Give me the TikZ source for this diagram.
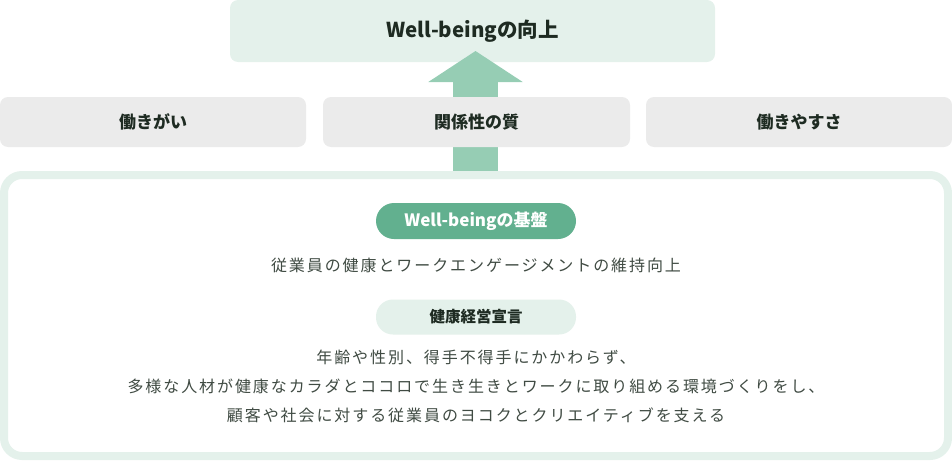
\documentclass[tikz,border=0pt]{standalone}
\usepackage{fontspec}
\setmainfont{Noto Sans CJK JP}
\newfontfamily\bodyfont[LetterSpace=12]{Noto Sans CJK JP}
\usetikzlibrary{arrows.meta}

\definecolor{paleGreen}{HTML}{E4F1EB}
\definecolor{midGreen}{HTML}{96CDB4}
\definecolor{deepGreen}{HTML}{62B08F}
\definecolor{paleGray}{HTML}{EBEBEB}
\definecolor{inkDark}{HTML}{1E2B22}

\tikzset{
    goalbox/.style={fill=paleGreen, rounded corners=8pt, minimum width=485pt, minimum height=62pt,
        inner sep=0pt, outer sep=0pt, text=inkDark, font=\bfseries\fontsize{20.5}{22}\selectfont},
    factorbox/.style={fill=paleGray, rounded corners=8pt, minimum width=306pt, minimum height=50pt,
        inner sep=0pt, outer sep=0pt, text=inkDark, font=\bfseries\fontsize{17}{19}\selectfont},
    basepill/.style={fill=deepGreen, rounded corners=18pt, minimum width=200pt, minimum height=36pt,
        inner sep=0pt, text=white, font=\bfseries\fontsize{17}{19}\selectfont},
    declpill/.style={fill=paleGreen, rounded corners=17pt, minimum width=200pt, minimum height=35pt,
        inner sep=0pt, text=inkDark, font=\bfseries\fontsize{15.5}{17}\selectfont},
    bodytext/.style={text=inkDark!85, align=center, inner sep=0pt, font=\bodyfont\fontsize{16}{29}\selectfont}
}

\begin{document}
\begin{tikzpicture}[x=1pt, y=-1pt]
    \useasboundingbox (0,0) rectangle (952,460);

    \node[goalbox] (goal) at (472.5,31) {Well-beingの向上};

    % arrow up from the base into the goal
    \coordinate (tail) at (475.5,172);
    \coordinate (tip) at (475.5,51);
    \draw[midGreen, line width=45pt, -{Triangle[width=93pt, length=31pt]}] (tail) -- (tip);

    \node[factorbox] (yarigai) at (153,122) {働きがい};
    \node[factorbox, minimum width=307pt] (kankei) at (476.5,122) {関係性の質};
    \node[factorbox] (yasusa) at (799,122) {働きやすさ};

    % the foundation frame
    \node[draw=paleGreen, line width=8pt, rounded corners=18pt, fill=white, minimum width=944pt,
        minimum height=281pt, inner sep=0pt, outer sep=0pt] (base) at (476,315.5) {};

    \node[basepill] (kiban) at (476,221) {Well-beingの基盤};
    \node[bodytext] (iji) at (476,265) {従業員の健康とワークエンゲージメントの維持向上};
    \node[declpill] (sengen) at (476,317) {健康経営宣言};
    \node[bodytext] (honbun) at (476,386) {年齢や性別、得手不得手にかかわらず、\\
        多様な人材が健康なカラダとココロで生き生きとワークに取り組める環境づくりをし、\\
        顧客や社会に対する従業員のヨコクとクリエイティブを支える};

\end{tikzpicture}
\end{document}
